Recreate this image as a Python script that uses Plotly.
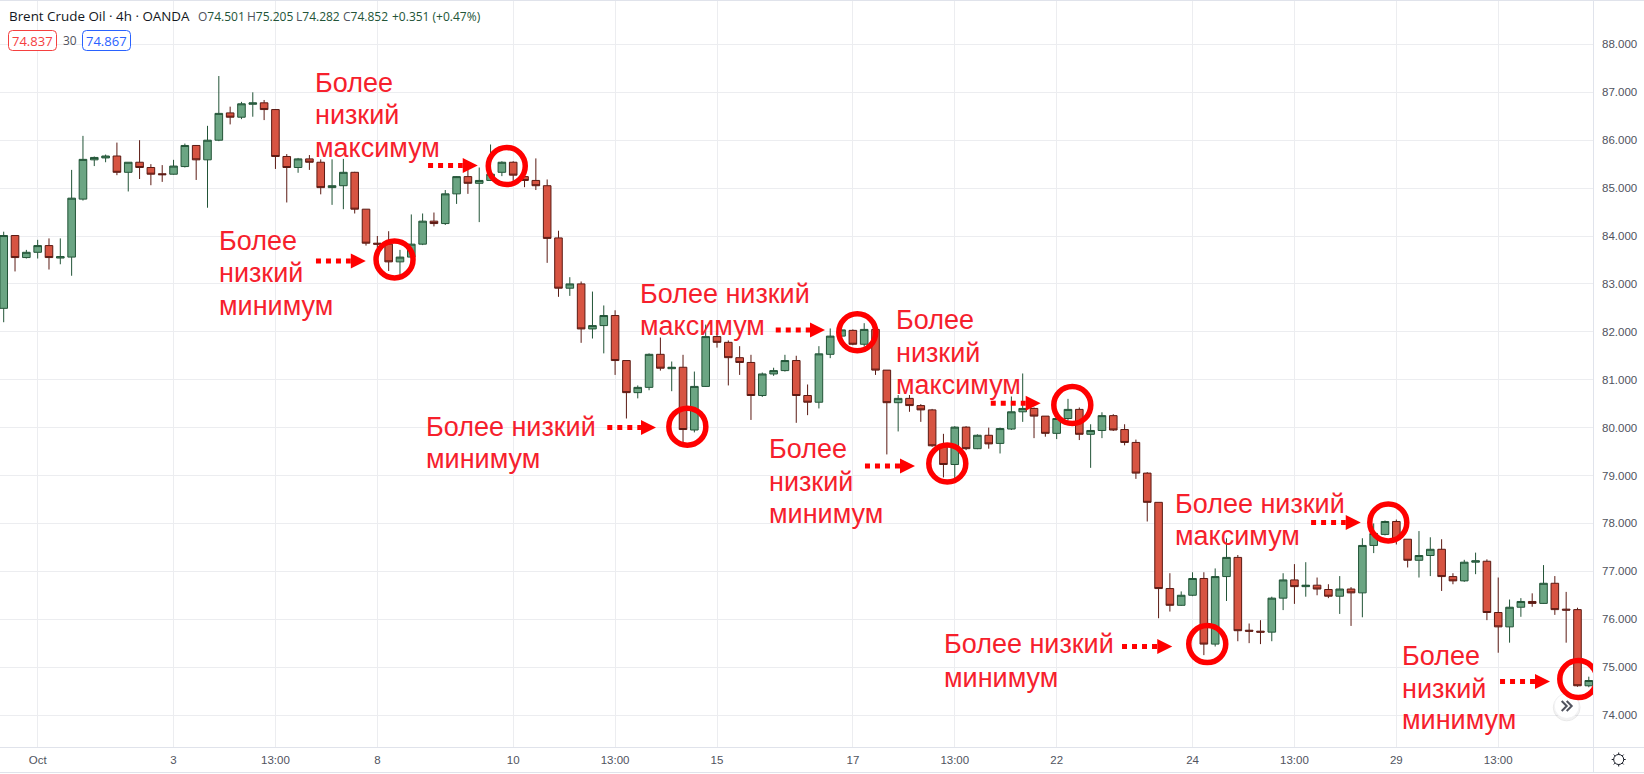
"""Brent Crude Oil 4h candles with lower-high / lower-low callouts."""

import math

import plotly.graph_objects as go

GREEN_FILL = "#6BA583"
GREEN_LINE = "#225437"
RED_FILL = "#D75442"
RED_LINE = "#5B1A13"
GRID = "#ECEDF0"
BORDER = "#E0E3EB"
MARK = "#FF0000"
NOTE = "#F6202C"
AXIS_TEXT = "#50535E"

PLOT_W = 1593
PLOT_H = 747

opens = [
    82.49, 84.01, 83.55, 83.66, 83.80, 83.54, 83.56, 84.77, 85.59, 85.63, 85.67, 85.33,
    85.54, 85.43, 85.30, 85.29, 85.45, 85.89, 85.59, 86.00, 86.57, 86.48, 86.75, 86.78,
    86.64, 85.66, 85.43, 85.61, 85.54, 85.01, 85.05, 85.33, 84.56, 83.85, 83.83, 83.46,
    83.56, 83.83, 84.31, 84.26, 84.88, 85.24, 85.10, 85.16, 85.33, 85.54, 85.24, 85.16,
    85.05, 83.96, 82.91, 83.00, 82.06, 82.13, 82.34, 81.40, 80.73, 80.84, 81.53, 81.23,
    81.26, 79.95, 80.86, 81.90, 81.78, 81.46, 81.36, 80.67, 81.12, 81.19, 81.40, 80.67,
    80.53, 81.53, 81.91, 82.03, 81.74, 82.05, 81.20, 80.52, 80.61, 80.46, 80.37, 79.62,
    79.23, 80.01, 79.56, 79.84, 79.67, 79.97, 80.33, 80.40, 80.24, 79.88, 80.19, 80.38,
    79.86, 79.94, 80.25, 79.96, 79.69, 79.05, 78.44, 76.64, 76.29, 76.50, 76.85, 75.48,
    76.89, 77.29, 75.77, 75.75, 75.73, 76.44, 76.82, 76.68, 76.71, 76.62, 76.48, 76.63,
    76.55, 77.54, 77.77, 78.04, 77.67, 77.23, 77.33, 77.46, 76.89, 76.80, 77.19, 77.21,
    76.14, 75.84, 76.25, 76.37, 76.33, 76.75, 76.21, 76.20, 74.61,
]
highs = [
    84.09, 84.01, 83.71, 83.92, 83.95, 83.95, 85.38, 86.09, 85.66, 85.70, 85.95, 85.54,
    86.00, 85.50, 85.48, 85.59, 85.93, 85.90, 86.30, 87.34, 86.70, 86.80, 87.00, 86.84,
    86.65, 85.71, 85.63, 85.69, 85.60, 85.60, 85.61, 85.34, 84.56, 84.00, 84.10, 83.71,
    84.45, 84.47, 84.49, 84.96, 85.25, 85.55, 85.43, 85.91, 85.56, 85.56, 85.38, 85.62,
    85.18, 84.11, 83.14, 83.05, 82.84, 82.55, 82.45, 81.40, 80.88, 81.55, 81.88, 81.38,
    81.52, 81.17, 82.15, 81.97, 81.82, 81.70, 81.52, 81.15, 81.25, 81.52, 81.50, 80.90,
    81.70, 82.07, 82.05, 82.05, 82.18, 82.05, 81.20, 80.68, 80.68, 80.49, 80.39, 79.87,
    80.03, 80.03, 79.86, 80.00, 80.00, 80.65, 81.13, 80.42, 80.24, 80.21, 80.60, 80.42,
    80.07, 80.32, 80.28, 80.07, 79.75, 79.07, 78.44, 76.96, 76.58, 76.98, 76.98, 77.06,
    77.69, 77.34, 75.91, 75.98, 76.47, 76.96, 77.15, 77.19, 76.87, 76.73, 76.90, 76.67,
    77.69, 78.00, 78.06, 78.08, 77.67, 77.84, 77.71, 77.67, 76.96, 77.24, 77.39, 77.25,
    76.87, 76.41, 76.44, 76.54, 77.13, 76.90, 76.57, 76.24, 74.80,
]
lows = [
    82.20, 83.26, 83.53, 83.53, 83.30, 83.41, 83.17, 84.74, 85.46, 85.54, 85.27, 84.93,
    85.19, 85.06, 85.13, 85.28, 85.43, 85.17, 84.59, 85.98, 86.33, 86.44, 86.49, 86.42,
    85.40, 84.70, 85.32, 85.38, 84.87, 84.65, 84.56, 84.47, 83.80, 83.75, 83.27, 83.19,
    83.53, 83.81, 84.20, 84.23, 84.67, 84.88, 84.29, 85.15, 85.25, 85.15, 85.02, 84.96,
    83.44, 82.73, 82.75, 81.77, 81.86, 81.55, 81.10, 80.19, 80.61, 80.78, 81.19, 80.76,
    79.70, 79.90, 80.85, 81.67, 80.88, 81.10, 80.16, 80.64, 81.08, 81.17, 80.10, 80.26,
    80.40, 81.45, 81.89, 81.72, 81.69, 81.10, 79.44, 79.92, 80.33, 80.12, 79.60, 78.96,
    78.94, 79.53, 79.55, 79.56, 79.46, 79.95, 80.12, 79.78, 79.81, 79.76, 80.15, 79.74,
    79.16, 79.78, 79.93, 79.63, 78.93, 78.04, 76.02, 76.16, 76.28, 76.48, 75.25, 75.43,
    76.38, 75.54, 75.50, 75.48, 75.54, 76.19, 76.32, 76.47, 76.50, 76.44, 76.11, 75.86,
    76.04, 77.38, 77.75, 77.56, 77.08, 76.87, 76.90, 76.59, 76.73, 76.78, 76.94, 75.98,
    75.30, 75.51, 76.05, 76.26, 76.32, 76.09, 75.51, 74.59, 74.58,
]
closes = [
    84.01, 83.55, 83.66, 83.80, 83.55, 83.57, 84.79, 85.60, 85.64, 85.67, 85.33, 85.54,
    85.43, 85.29, 85.28, 85.46, 85.89, 85.59, 86.00, 86.56, 86.48, 86.76, 86.78, 86.64,
    85.66, 85.43, 85.61, 85.54, 85.01, 85.05, 85.33, 84.56, 83.85, 83.83, 83.46, 83.56,
    83.83, 84.31, 84.26, 84.88, 85.24, 85.10, 85.16, 85.29, 85.54, 85.27, 85.16, 85.05,
    83.95, 82.91, 83.00, 82.06, 82.13, 82.34, 81.40, 80.73, 80.84, 81.53, 81.24, 81.26,
    79.96, 80.86, 81.90, 81.78, 81.46, 81.36, 80.67, 81.12, 81.19, 81.40, 80.67, 80.53,
    81.54, 81.91, 82.04, 81.74, 82.05, 81.20, 80.52, 80.61, 80.46, 80.37, 79.62, 79.23,
    80.01, 79.56, 79.84, 79.66, 79.98, 80.33, 80.40, 80.24, 79.88, 80.19, 80.38, 79.86,
    79.94, 80.25, 79.95, 79.69, 79.05, 78.44, 76.64, 76.29, 76.50, 76.85, 75.48, 76.89,
    77.29, 75.76, 75.75, 75.73, 76.44, 76.82, 76.68, 76.71, 76.63, 76.48, 76.63, 76.55,
    77.54, 77.79, 78.04, 77.67, 77.23, 77.33, 77.46, 76.89, 76.80, 77.19, 77.22, 76.14,
    75.84, 76.25, 76.37, 76.33, 76.75, 76.20, 76.19, 74.61, 74.72,
]

time_tick_bars = [3, 15, 24, 33, 45, 54, 63, 75, 84, 93, 105, 114, 123, 132]
time_tick_labels = ["Oct", "3", "13:00", "8", "10", "13:00", "15", "17", "13:00", "22", "24", "13:00", "29", "13:00"]
price_ticks = [74, 75, 76, 77, 78, 79, 80, 81, 82, 83, 84, 85, 86, 87, 88]

ohlc_labels = ["O", "H", "L", "C"]
ohlc_values = ["74.501", "75.205", "74.282", "74.852"]
ohlc_lefts = [197.7, 246.7, 295.7, 343]

# red rings: bar position, price
ring_bars = [34.52, 44.43, 60.38, 75.39, 83.34, 94.38, 106.30, 122.29, 139.07]
ring_prices = [83.51, 85.46, 80.02, 81.99, 79.25, 80.47, 75.48, 78.02, 74.75]

# dotted arrows: start bar, tip bar, price
arrow_starts = [27.58, 37.48, 53.31, 68.19, 76.07, 87.18, 98.77, 115.47, 132.16]
arrow_tips = [31.98, 41.87, 57.61, 72.54, 80.49, 91.59, 103.21, 119.86, 136.57]
arrow_prices = [83.48, 85.47, 80.00, 82.04, 79.20, 80.51, 75.43, 78.02, 74.70]

# callout text, one entry per line: text, left px, baseline px
note_lines = [
    ("Более", 314, 91.7), ("низкий", 314, 124.3), ("максимум", 314, 156.7),
    ("Более", 218, 250), ("низкий", 218, 282.3), ("минимум", 218, 315),
    ("Более низкий", 425.3, 435.7), ("минимум", 425.3, 468.3),
    ("Более низкий", 638.7, 302.7), ("максимум", 638.7, 335),
    ("Более", 895.3, 329.3), ("низкий", 895.3, 361.7), ("максимум", 895.3, 394),
    ("Более", 768, 458.3), ("низкий", 768, 491), ("минимум", 768, 523.3),
    ("Более низкий", 1174, 512.7), ("максимум", 1174, 545),
    ("Более низкий", 943, 653.3), ("минимум", 943, 686.7),
    ("Более", 1401.3, 665), ("низкий", 1401.3, 697.7), ("минимум", 1401.3, 729.3),
]


def px(x):
    return x / PLOT_W


def py(y):
    return 1 - y / PLOT_H


def rounded_box(x0, y0, x1, y1, color, r=4):
    w, h = (x1 - x0) / 2, (y1 - y0) / 2
    path = (
        f"M {-w + r} {-h} L {w - r} {-h} Q {w} {-h} {w} {-h + r} L {w} {h - r} Q {w} {h} {w - r} {h} "
        f"L {-w + r} {h} Q {-w} {h} {-w} {h - r} L {-w} {-h + r} Q {-w} {-h} {-w + r} {-h} Z"
    )
    return dict(
        type="path", xref="paper", yref="paper", xsizemode="pixel", ysizemode="pixel",
        xanchor=px((x0 + x1) / 2), yanchor=py((y0 + y1) / 2), path=path,
        line=dict(color=color, width=1), fillcolor="white",
    )


def circle_px(cx, cy, r, line, fill, width=1):
    return dict(
        type="circle", xref="paper", yref="paper", xsizemode="pixel", ysizemode="pixel",
        xanchor=px(cx), yanchor=py(cy), x0=-r, x1=r, y0=-r, y1=r,
        line=dict(color=line, width=width), fillcolor=fill,
    )


def icon_path(cx, cy, path, color, width):
    return dict(
        type="path", xref="paper", yref="paper", xsizemode="pixel", ysizemode="pixel",
        xanchor=px(cx), yanchor=py(cy), path=path, line=dict(color=color, width=width),
    )


def gear_path():
    parts = []
    for k in range(8):
        a = k * math.pi / 4
        parts.append(f"M {5 * math.cos(a):.2f} {5 * math.sin(a):.2f} L {7 * math.cos(a):.2f} {7 * math.sin(a):.2f}")
    return " ".join(parts)


fig = go.Figure()
bars = list(range(len(opens)))
fig.add_trace(go.Candlestick(
    x=bars, open=opens, high=highs, low=lows, close=closes,
    increasing=dict(fillcolor=GREEN_FILL, line=dict(color=GREEN_LINE, width=1)),
    decreasing=dict(fillcolor=RED_FILL, line=dict(color=RED_LINE, width=1)),
    whiskerwidth=0, hoverinfo="skip", showlegend=False,
))

head_len = 15 / (PLOT_W / 140.7)
shapes = []
for start, tip, price in zip(arrow_starts, arrow_tips, arrow_prices):
    fig.add_trace(go.Scatter(
        x=[start, tip - head_len], y=[price, price], mode="lines",
        line=dict(color=MARK, width=5, dash="5px,5px"), hoverinfo="skip", showlegend=False,
    ))
    shapes.append(dict(
        type="path", xref="x", yref="y", xsizemode="pixel", ysizemode="pixel",
        xanchor=tip, yanchor=price, path="M -15 -7.5 L 0 0 L -15 7.5 Z",
        fillcolor=MARK, line=dict(width=0),
    ))

# scroll button under the last ring
shapes.append(circle_px(1566.7, 707.5, 13.5, "rgba(0,0,0,0.05)", "rgba(0,0,0,0.05)"))
shapes.append(circle_px(1566.7, 706, 12.5, "#F2F2F4", "white"))
shapes.append(icon_path(1566.7, 706, "M -5 -5 L 0 0 L -5 5 M 0 -5 L 5 0 L 0 5", "#50535E", 2))

for bar, price in zip(ring_bars, ring_prices):
    shapes.append(dict(
        type="circle", xref="x", yref="y", xsizemode="pixel", ysizemode="pixel",
        xanchor=bar, yanchor=price, x0=-18.5, x1=18.5, y0=-18.5, y1=18.5,
        line=dict(color=MARK, width=5.5), fillcolor="rgba(0,0,0,0)",
    ))

# chart frame lines
for x0, y0, x1, y1 in [(0, 0.5, 1644, 0.5), (0, 772.5, 1644, 772.5), (0, 747.5, 1644, 747.5), (1593.5, 0, 1593.5, 772)]:
    shapes.append(dict(
        type="line", xref="paper", yref="paper", x0=px(x0), x1=px(x1), y0=py(y0), y1=py(y1),
        line=dict(color=BORDER, width=1),
    ))

shapes.append(rounded_box(8.5, 30.5, 56.5, 50.5, "#F5403F"))
shapes.append(rounded_box(82.5, 30.5, 130.5, 50.5, "#2962FF"))
shapes.append(circle_px(1618.7, 759.5, 5, "#131722", "white"))
shapes.append(icon_path(1618.7, 759.5, gear_path(), "#131722", 1))

annotations = []
for text, left, baseline in note_lines:
    annotations.append(dict(
        text=text, xref="paper", yref="paper", x=px(left), y=py(baseline + 7), xanchor="left", yanchor="bottom",
        showarrow=False, borderpad=0, font=dict(family="Liberation Sans", size=27, color=NOTE),
    ))


def header_text(text, left, y, color, size=13, family="Open Sans", anchor="left"):
    annotations.append(dict(
        text=text, xref="paper", yref="paper", x=px(left), y=py(y), xanchor=anchor, yanchor="middle",
        showarrow=False, borderpad=0, font=dict(family=family, size=size, color=color),
    ))


header_text("Brent Crude Oil · 4h · OANDA", 8, 16, "#131722", size=13.4)
for label, value, left in zip(ohlc_labels, ohlc_values, ohlc_lefts):
    header_text(f'<span style="color:#50535E">{label}</span>{value}', left - 1, 16, GREEN_LINE, size=12)
header_text("+0.351 (+0.47%)", 390.7, 16, GREEN_LINE, size=12)
header_text("74.837", 32.5, 40.5, "#F5403F", anchor="center")
header_text("30", 69.5, 40.5, "#50535E", size=12, anchor="center")
header_text("74.867", 106.5, 40.5, "#2962FF", anchor="center")

fig.update_layout(
    width=1644,
    height=774,
    autosize=False,
    margin=dict(l=0, r=51, t=0, b=27),
    paper_bgcolor="white",
    plot_bgcolor="white",
    showlegend=False,
    boxmode="overlay",
    boxgap=0.33,
    boxgroupgap=0,
    shapes=shapes,
    annotations=annotations,
    font=dict(family="Liberation Sans", size=11.5, color=AXIS_TEXT),
    xaxis=dict(
        range=[-0.327, 140.37], rangeslider=dict(visible=False), tickmode="array",
        tickvals=time_tick_bars, ticktext=time_tick_labels, gridcolor=GRID, gridwidth=1,
        showline=False, zeroline=False, ticks="", ticklabelstandoff=4,
    ),
    yaxis=dict(
        side="right", range=[73.332, 88.927], tickmode="array", tickvals=price_ticks,
        ticktext=[f"{p:.3f}" for p in price_ticks], gridcolor=GRID, gridwidth=1,
        showline=False, zeroline=False, ticks="", ticklabelstandoff=8,
    ),
)

fig.write_html("out.html", config=dict(displayModeBar=False), post_script="document.body.style.margin='0';")
